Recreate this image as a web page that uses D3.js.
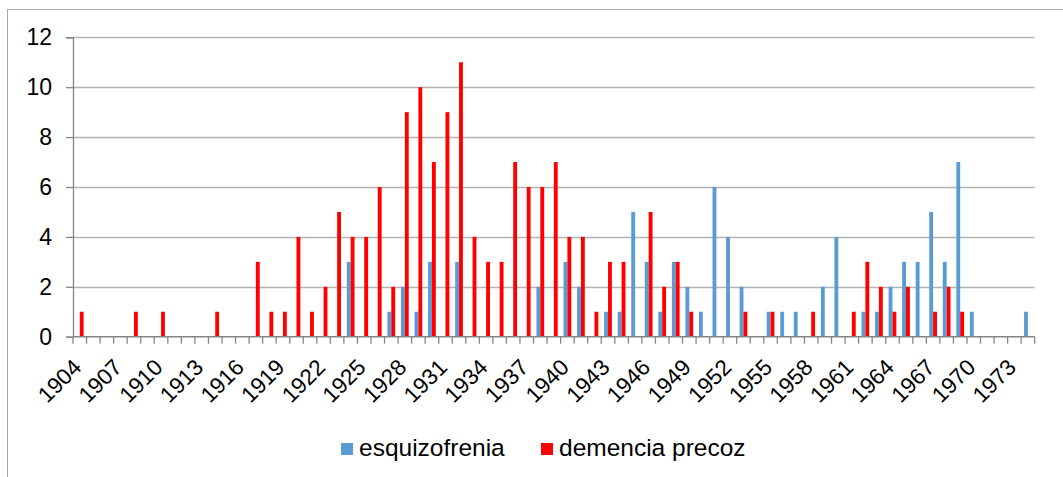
<!DOCTYPE html>
<html>
<head>
<meta charset="utf-8">
<script src="https://cdn.jsdelivr.net/npm/d3@7"></script>
<style>
  body { margin: 0; background: #fff; }
</style>
</head>
<body>
<div class="chartContainer"></div>
<script>
// Years on the x axis (1904 -> 1974), labels shown every 3 years
const years = d3.range(1904, 1975);
const tickYears = d3.range(1904, 1975, 3);
const yTicks = [0, 2, 4, 6, 8, 10, 12];

const seriesNames = ['esquizofrenia', 'demencia precoz'];
const seriesColors = ['#5b9bd5', '#ff0000'];

// counts per year (0 where there is no bar)
const esquizofrenia = [
  0, 0, 0, 0, 0, 0, 0, 0, 0, 0,   // 1904-1913
  0, 0, 0, 0, 0, 0, 0, 0, 0, 0,   // 1914-1923
  3, 0, 0, 1, 2, 1, 3, 0, 3, 0,   // 1924-1933
  0, 0, 0, 0, 2, 0, 3, 2, 0, 1,   // 1934-1943
  1, 5, 3, 1, 3, 2, 1, 6, 4, 2,   // 1944-1953
  0, 1, 1, 1, 0, 2, 4, 0, 1, 1,   // 1954-1963
  2, 3, 3, 5, 3, 7, 1, 0, 0, 0,   // 1964-1973
  1                               // 1974
];

const demenciaPrecoz = [
  1, 0, 0, 0, 1, 0, 1, 0, 0, 0,
  1, 0, 0, 3, 1, 1, 4, 1, 2, 5,
  4, 4, 6, 2, 9, 10, 7, 9, 11, 4,
  3, 3, 7, 6, 6, 7, 4, 4, 1, 3,
  3, 0, 5, 2, 3, 1, 0, 0, 0, 1,
  0, 1, 0, 0, 1, 0, 0, 1, 3, 2,
  1, 2, 0, 1, 2, 1, 0, 0, 0, 0,
  0
];

const seriesValues = [esquizofrenia, demenciaPrecoz];

// Build rows for the grouped bars
let data = years.map((year, i) => {
  return {
    year: year,
    values: seriesNames.map((name, s) => ({ key: name, value: seriesValues[s][i], color: seriesColors[s] }))
  };
});

let width = 1063;
let height = 477;

// plot area (inner box of the chart)
let plot = { left: 73, right: 1034.7, top: 37.3, bottom: 336.7 };

const xScale = d3.scaleBand()
  .domain(years)
  .range([plot.left, plot.right])
  .padding(0);

// inner band for the two series, excel style gap width 150%
const xInner = d3.scaleBand()
  .domain(seriesNames)
  .range([0, xScale.bandwidth()])
  .paddingInner(0)
  .paddingOuter(0.75);

const yScale = d3.scaleLinear()
  .domain([0, 12])
  .range([plot.bottom, plot.top]);

let svg = d3.select('div.chartContainer').append('svg')
  .attr('width', width)
  .attr('height', height)
  .attr('font-family', 'Liberation Sans, Arial, sans-serif');

// outer chart border (runs off the right and bottom edges)
svg.append('rect')
  .attr('x', 7.5)
  .attr('y', 9.5)
  .attr('width', 1200)
  .attr('height', 600)
  .attr('fill', 'none')
  .attr('stroke', '#a6a6a6')
  .attr('stroke-width', 1);

// horizontal gridlines
svg.append('g')
  .selectAll('line')
  .data(yTicks.filter(d => d > 0))
  .enter().append('line')
  .attr('x1', plot.left)
  .attr('x2', plot.right)
  .attr('y1', d => Math.round(yScale(d)) + 0.5)
  .attr('y2', d => Math.round(yScale(d)) + 0.5)
  .attr('stroke', '#b3b3b3')
  .attr('stroke-width', 1.3);

// bars
let groups = svg.append('g')
  .selectAll('g')
  .data(data)
  .enter().append('g')
  .attr('transform', d => 'translate(' + xScale(d.year) + ',0)');

groups.selectAll('rect')
  .data(d => d.values.filter(v => v.value > 0))
  .enter().append('rect')
  .attr('x', d => xInner(d.key))
  .attr('width', xInner.bandwidth())
  .attr('y', d => yScale(d.value))
  .attr('height', d => yScale(0) - yScale(d.value))
  .attr('fill', d => d.color);

// y axis
let yAxis = svg.append('g')
  .attr('transform', 'translate(' + plot.left + ',0)')
  .call(d3.axisLeft(yScale).tickValues(yTicks).tickSize(7).tickPadding(14));

yAxis.select('path.domain').attr('stroke', '#868686').attr('stroke-width', 1.3);
yAxis.selectAll('.tick line').attr('stroke', '#868686').attr('stroke-width', 1.3);
yAxis.selectAll('.tick text')
  .attr('font-size', 23)
  .attr('font-family', 'Liberation Sans, Arial, sans-serif')
  .attr('fill', '#000');

// x axis: ticks sit between categories
let xAxis = svg.append('g')
  .attr('transform', 'translate(0,' + plot.bottom + ')');

xAxis.append('line')
  .attr('x1', plot.left)
  .attr('x2', plot.right)
  .attr('y1', 0)
  .attr('y2', 0)
  .attr('stroke', '#868686')
  .attr('stroke-width', 1.5);

xAxis.selectAll('line.tick')
  .data(years.concat([null]))
  .enter().append('line')
  .attr('class', 'tick')
  .attr('x1', d => d === null ? plot.right : xScale(d))
  .attr('x2', d => d === null ? plot.right : xScale(d))
  .attr('y1', 0)
  .attr('y2', 7)
  .attr('stroke', '#868686')
  .attr('stroke-width', 1.3);

// rotated year labels
xAxis.selectAll('text')
  .data(tickYears)
  .enter().append('text')
  .attr('transform', d => 'translate(' + (xScale(d) + xScale.bandwidth() / 2 + 3) + ',32) rotate(-45)')
  .attr('text-anchor', 'end')
  .attr('font-size', 22.5)
  .attr('fill', '#000')
  .text(d => d);

// legend
let legend = svg.append('g')
  .selectAll('g')
  .data(seriesNames)
  .enter().append('g')
  .attr('transform', (d, i) => 'translate(' + [341, 541][i] + ',443)');

legend.append('rect')
  .attr('width', 12)
  .attr('height', 12)
  .attr('fill', (d, i) => seriesColors[i]);

legend.append('text')
  .attr('x', 18)
  .attr('y', 13)
  .attr('font-size', 24.5)
  .attr('fill', '#000')
  .text(d => d);
</script>
</body>
</html>
